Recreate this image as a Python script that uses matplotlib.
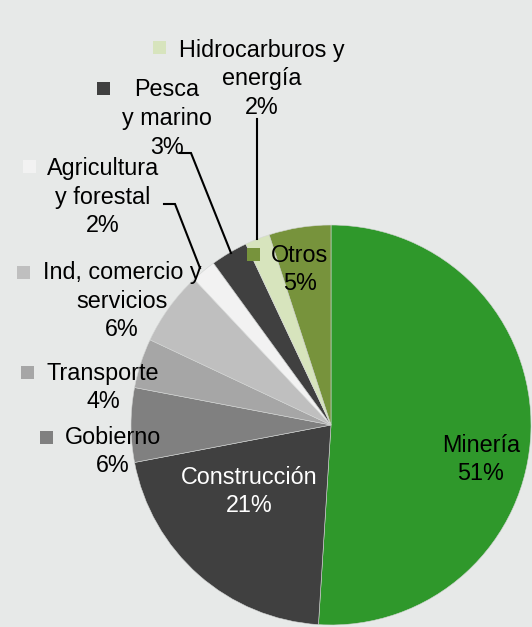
import matplotlib
matplotlib.use("Agg")
import matplotlib.pyplot as plt
from matplotlib.patches import Rectangle

plt.rcParams['font.family'] = ['Liberation Sans', 'DejaVu Sans']

# sector shares (%), clockwise from 12 o'clock
sectors = ["Minería", "Construcción", "Gobierno", "Transporte", "Ind, comercio y\nservicios",
           "Agricultura\ny forestal", "Pesca\ny marino", "Hidrocarburos y\nenergía", "Otros"]
shares = [51, 21, 6, 4, 6, 2, 3, 2, 5]
colors = ["#2f982b", "#404040", "#808080", "#a6a6a6", "#bfbfbf",
          "#f2f2f2", "#404040", "#d7e4bd", "#77933c"]

W, H = 532, 627
BG = "#e7e9e8"
LINE = 28.5  # px between label lines
fig = plt.figure(figsize=(W / 100, H / 100), dpi=100, facecolor=BG)
ax = fig.add_axes([0, 0, 1, 1])

cx, cy, R = 331, H - 425, 200
ax.pie(shares, colors=colors, startangle=90, counterclock=False,
       center=(cx, cy), radius=R, frame=True,
       wedgeprops=dict(edgecolor="#d4d6d5", linewidth=0.4))
ax.set_xlim(0, W); ax.set_ylim(0, H); ax.set_aspect("equal"); ax.axis("off")

# label layout in pixel coords (top-left origin): text centre x, centre y, key square x, y, text colour
layout = [
    (481, 459, None, None, "black"),
    (249, 491, None, None, "white"),
    (113, 451, 40, 431, "black"),
    (103, 387, 21, 366, "black"),
    (122, 301, 17, 266, "black"),
    (103, 197, 23, 160, "black"),
    (167, 118, 97, 82, "black"),
    (262, 78, 153, 41, "black"),
    (300, 269, 247, 248, "black"),
]
for name, v, c, (tx, ty, kx, ky, tc) in zip(sectors, shares, colors, layout):
    lines = name.split("\n") + [f"{v}%"]
    n = len(lines)
    for i, s in enumerate(lines):
        ly = ty + (i - (n - 1) / 2) * LINE - 2
        ax.text(tx, H - ly, s, ha="center", va="center_baseline", fontsize=16.8, color=tc)
    if kx is not None:
        ax.add_patch(Rectangle((kx, H - ky - 13), 13, 13, facecolor=c, edgecolor="none"))

# leader lines
leaders = [
    [(257, 119), (257, 239)],
    [(180, 153), (191, 153), (231, 253)],
    [(164, 204), (175, 204), (200, 268)],
]
for pts in leaders:
    ax.plot([p[0] for p in pts], [H - p[1] for p in pts], color="black", lw=1.5,
            solid_joinstyle="miter")

fig.savefig("out.png", dpi=100, facecolor=BG)
